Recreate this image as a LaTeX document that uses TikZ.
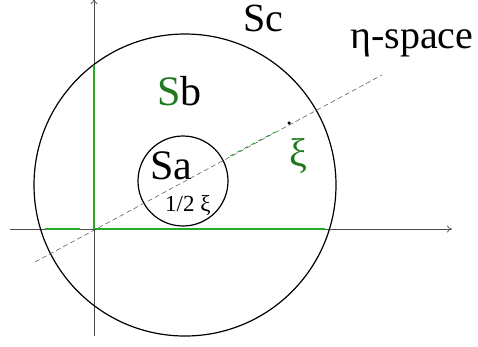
\documentclass[tikz,border=0pt]{standalone}
\usepackage{fontspec}
\setmainfont{Liberation Serif}
\usetikzlibrary{arrows.meta}
\definecolor{gline}{RGB}{40,170,40}
\definecolor{gtext}{RGB}{30,120,30}
\tikzset{
  axis/.style={draw=black!70, line width=0.7pt},
  circ/.style={draw=black, line width=1.2pt},
  lbl/.style={inner sep=0pt, anchor=base west},
  greenbit/.style={draw=gline, line width=1.2pt},
}
\begin{document}
\begin{tikzpicture}[x=1pt,y=-1pt]
\useasboundingbox (0,0) rectangle (478,346);
\coordinate (O) at (94,229);
\coordinate (xl) at (10,229);
\coordinate (xr) at (452,229);
\coordinate (yt) at (94,-1);
\coordinate (yb) at (94,336);
\coordinate (dl) at (35,262);
\coordinate (dr) at (382,75);
% axes
\draw[axis, -{To[length=5pt,width=7pt]}] (xl) -- (xr);
\draw[axis, -{To[length=5pt,width=7pt]}] (yb) -- (yt);
% circles
\node[circ, circle, minimum size=302pt, inner sep=0pt] (Sc) at (185,185) {};
\node[circ, circle, minimum size=90pt, inner sep=0pt] (Sa) at (183,181) {};
% green overlays
\draw[greenbit] (94,65) -- (O);
\draw[greenbit] (O) -- (325,229);
\draw[greenbit] (45,229) -- (80,229);
% dashed line
\draw[black!70, dashed, dash pattern=on 5pt off 3pt, line width=0.5pt] (dl) -- (dr);
\draw[gline, dashed, dash pattern=on 4pt off 4pt, line width=0.8pt] (230,156) -- (275,132);
% point xi
\node[fill=black, circle, inner sep=0pt, minimum size=3.5pt] (xi) at (289,123) {};
% labels
\node[lbl, font=\fontsize{40}{40}\selectfont] (tSc) at (243,31) {Sc};
\node[lbl, font=\fontsize{40}{40}\selectfont] (teta) at (350,48) {η-space};
\node[lbl, font=\fontsize{42}{42}\selectfont] (tSb) at (157,105) {\textcolor{gtext}{S}b};
\node[lbl, font=\fontsize{42}{42}\selectfont] (tSa) at (150,179) {Sa};
\node[lbl, font=\fontsize{23}{23}\selectfont] (thalf) at (165,211) {1/2 ξ};
\node[lbl, font=\fontsize{40}{40}\selectfont, text=gtext] (txi) at (289,166) {ξ};
\end{tikzpicture}
\end{document}
